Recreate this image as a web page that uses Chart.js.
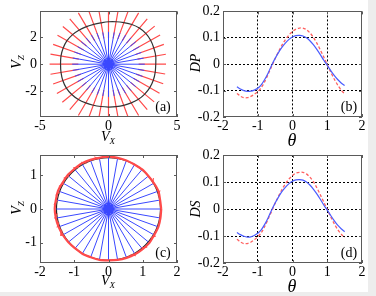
<!DOCTYPE html>
<html>
<head>
<meta charset="utf-8">
<script src="https://cdn.jsdelivr.net/npm/chart.js@4/dist/chart.umd.min.js"></script>
<style>
  html,body{margin:0;padding:0;background:#fff;}
  #wrap{position:relative;width:376px;height:296px;overflow:hidden;background:#fff;}
  canvas{position:absolute;left:0;top:0;}
  .lab{position:absolute;font-family:"Liberation Serif",serif;color:#000;white-space:nowrap;line-height:1;}
  .it{font-style:italic;}
  .sub{font-size:9px;font-style:italic;position:relative;top:3px;}
  .stripR{position:absolute;left:368px;top:0;width:8px;height:296px;background:#ededed;}
  .stripB{position:absolute;left:0;top:292px;width:376px;height:4px;background:#ededed;}
</style>
</head>
<body>
<div id="wrap">
  <canvas id="ca" width="376" height="296"></canvas>
  <canvas id="cb" width="376" height="296"></canvas>
  <canvas id="cc" width="376" height="296"></canvas>
  <canvas id="cd" width="376" height="296"></canvas>

  <div class="lab it" style="left:17px;top:62px;font-size:14px;transform:translate(-50%,-50%) rotate(-90deg);">V<span class="sub">Z</span></div>
  <div class="lab it" style="left:108px;top:130px;font-size:14px;transform:translateX(-50%);">V<span class="sub">X</span></div>
  <div class="lab it" style="left:196px;top:63px;font-size:14px;transform:translate(-50%,-50%) rotate(-90deg);">DP</div>
  <div class="lab it" style="left:292px;top:131px;font-size:18px;transform:translateX(-50%);">θ</div>
  <div class="lab it" style="left:17px;top:208px;font-size:14px;transform:translate(-50%,-50%) rotate(-90deg);">V<span class="sub">Z</span></div>
  <div class="lab it" style="left:108px;top:274px;font-size:14px;transform:translateX(-50%);">V<span class="sub">X</span></div>
  <div class="lab it" style="left:196px;top:209px;font-size:14px;transform:translate(-50%,-50%) rotate(-90deg);">DS</div>
  <div class="lab it" style="left:292px;top:277px;font-size:18px;transform:translateX(-50%);">θ</div>

  <div class="lab" style="left:163px;top:107px;font-size:14px;transform:translate(-50%,-50%);">(a)</div>
  <div class="lab" style="left:349px;top:107px;font-size:14px;transform:translate(-50%,-50%);">(b)</div>
  <div class="lab" style="left:163px;top:253px;font-size:14px;transform:translate(-50%,-50%);">(c)</div>
  <div class="lab" style="left:349px;top:253px;font-size:14px;transform:translate(-50%,-50%);">(d)</div>
  <div class="stripR"></div>
  <div class="stripB"></div>
</div>
<script>
// ---------- data ----------
const spokeAngles = [0,10,20,30,40,50,60,70,80,90,100,110,120,130,140,150,160,170,180,190,200,210,220,230,240,250,260,270,280,290,300,310,320,330,340,350];

// panel (a)
const blueLenA  = [2.65,2.6,2.55,2.6,2.6,2.55,2.5,2.45,2.4,2.4,2.4,2.45,2.5,2.55,2.6,2.6,2.65,2.65,2.65,2.65,2.6,2.6,2.55,2.5,2.45,2.4,2.4,2.4,2.4,2.45,2.5,2.55,2.6,2.6,2.65,2.65];
const redInA    = [2.2,2.15,2.1,2.1,2.1,2.05,2.0,2.0,1.95,1.95,1.95,2.0,2.0,2.05,2.1,2.1,2.15,2.2,2.2,2.2,2.15,2.1,2.1,2.05,2.0,2.0,1.95,1.95,1.95,2.0,2.0,2.05,2.1,2.1,2.15,2.2];
const redOutA   = [4.2,4.25,4.3,4.35,4.4,4.4,4.4,4.4,4.4,4.4,4.4,4.4,4.4,4.4,4.35,4.3,4.3,4.3,4.3,4.3,4.3,4.35,4.4,4.4,4.4,4.4,4.4,4.4,4.4,4.4,4.4,4.4,4.35,4.3,4.25,4.2];
const blackRadA = [3.45,3.5,3.52,3.55,3.55,3.5,3.4,3.28,3.2,3.15,3.12,3.15,3.22,3.32,3.42,3.5,3.52,3.52,3.5,3.52,3.55,3.55,3.5,3.42,3.32,3.24,3.19,3.18,3.2,3.25,3.32,3.4,3.45,3.48,3.48,3.46];
const xTicksA = [-5,0,5];
const yTicksA = [-2,0,2];

// panel (c)
const blueLenC  = [1.52,1.52,1.52,1.52,1.52,1.52,1.52,1.52,1.52,1.52,1.52,1.52,1.52,1.52,1.52,1.52,1.52,1.52,1.52,1.52,1.52,1.52,1.52,1.52,1.52,1.52,1.52,1.52,1.52,1.52,1.52,1.52,1.52,1.52,1.52,1.52];
const blackRadC = [1.52,1.52,1.52,1.52,1.52,1.52,1.52,1.52,1.52,1.52,1.52,1.52,1.52,1.52,1.52,1.52,1.52,1.52,1.52,1.52,1.52,1.52,1.52,1.52,1.52,1.52,1.52,1.52,1.52,1.52,1.52,1.52,1.52,1.52,1.52,1.52];
const redRadC   = [1.54,1.53,1.55,1.53,1.52,1.53,1.52,1.53,1.54,1.55,1.54,1.55,1.56,1.55,1.56,1.55,1.57,1.56,1.57,1.56,1.55,1.54,1.53,1.52,1.53,1.52,1.53,1.52,1.53,1.54,1.55,1.55,1.56,1.54,1.55,1.54];
const hairAnglesC = [15,30,85,100,115,125,140,150,160,170,185,195,205,295,310,325];
const xTicksC = [-2,-1,0,1,2];
const yTicksC = [-1,0,1];

// panels (b) and (d)
const theta = [-1.6,-1.5,-1.4,-1.3,-1.2,-1.1,-1.0,-0.9,-0.8,-0.7,-0.6,-0.5,-0.4,-0.3,-0.2,-0.1,0.0,0.1,0.2,0.3,0.4,0.5,0.6,0.7,0.8,0.9,1.0,1.1,1.2,1.3,1.4,1.5];
const dpBlue = [-0.085,-0.094,-0.100,-0.103,-0.102,-0.098,-0.091,-0.078,-0.058,-0.033,-0.004,0.022,0.045,0.065,0.081,0.094,0.103,0.108,0.109,0.107,0.100,0.089,0.074,0.056,0.036,0.015,-0.004,-0.024,-0.042,-0.058,-0.071,-0.081];
const dpRed  = [-0.111,-0.121,-0.127,-0.127,-0.122,-0.114,-0.104,-0.089,-0.066,-0.038,-0.008,0.021,0.048,0.073,0.094,0.111,0.124,0.133,0.137,0.137,0.131,0.119,0.102,0.080,0.054,0.027,-0.002,-0.030,-0.056,-0.079,-0.098,-0.113];
const dsBlue = [-0.087,-0.095,-0.101,-0.104,-0.103,-0.098,-0.090,-0.077,-0.057,-0.032,-0.004,0.022,0.045,0.065,0.081,0.094,0.103,0.108,0.109,0.107,0.100,0.089,0.074,0.056,0.036,0.015,-0.004,-0.024,-0.043,-0.060,-0.073,-0.084];
const dsRed  = [-0.112,-0.122,-0.128,-0.128,-0.123,-0.114,-0.103,-0.088,-0.065,-0.037,-0.008,0.021,0.048,0.073,0.094,0.111,0.124,0.133,0.136,0.136,0.130,0.118,0.101,0.079,0.053,0.026,-0.002,-0.029,-0.054,-0.076,-0.093,-0.106];
const xTicksTheta = [-2,-1,0,1,2];
const yTicksD = [-0.2,-0.1,0,0.1,0.2];

// ---------- helpers ----------
const rad = d => d * Math.PI / 180;
const P = (r, a) => ({x: r * Math.cos(rad(a)), y: r * Math.sin(rad(a))});
function segments(list) {          // list of [p0,p1] -> data with gaps
  const out = [];
  list.forEach(([p0, p1]) => { out.push(p0, p1, {x: p0.x, y: null}); });
  return out;
}
function closedCurve(radii) {
  const pts = spokeAngles.map((a, i) => P(radii[i], a));
  pts.push(pts[0]);
  return pts;
}

const FRAME = '#5a5a5a';
const framePlugin = {
  id: 'frame',
  afterDraw(chart) {
    const {ctx, chartArea: ca, scales} = chart;
    ctx.save();
    ctx.strokeStyle = FRAME;
    ctx.lineWidth = 1;
    ctx.setLineDash([]);
    ctx.strokeRect(Math.round(ca.left) + 0.5, Math.round(ca.top) + 0.5,
                   Math.round(ca.right - ca.left) - 1, Math.round(ca.bottom - ca.top) - 1);
    const t = 3;
    ctx.beginPath();
    scales.x.ticks.forEach(tk => {
      const px = Math.round(scales.x.getPixelForValue(tk.value)) + 0.5;
      ctx.moveTo(px, ca.bottom); ctx.lineTo(px, ca.bottom - t);
      ctx.moveTo(px, ca.top); ctx.lineTo(px, ca.top + t);
    });
    scales.y.ticks.forEach(tk => {
      const py = Math.round(scales.y.getPixelForValue(tk.value)) + 0.5;
      ctx.moveTo(ca.left, py); ctx.lineTo(ca.left + t, py);
      ctx.moveTo(ca.right, py); ctx.lineTo(ca.right - t, py);
    });
    ctx.stroke();
    ctx.restore();
  }
};

const tickFont = {family: '"Liberation Serif", serif', size: 14};

function makeScales(xr, yr, xt, yt, grid, fmtY) {
  const gridOpt = grid ? {
    display: true, drawTicks: false, lineWidth: 1,
    color: c => (c.tick && (Math.abs(c.tick.value - c.scale.min) < 1e-9 || Math.abs(c.tick.value - c.scale.max) < 1e-9)) ? 'rgba(0,0,0,0)' : '#000'
  } : {display: false, drawTicks: false};
  return {
    x: {
      type: 'linear', min: xr[0], max: xr[1],
      afterBuildTicks: s => { s.ticks = xt.map(v => ({value: v})); },
      afterFit: s => { s.height = 22; },
      ticks: {font: tickFont, color: '#000', padding: 1, maxRotation: 0, minRotation: 0, autoSkip: false,
              callback: v => String(v)},
      grid: gridOpt,
      border: {display: false, dash: [2, 2]}
    },
    y: {
      type: 'linear', min: yr[0], max: yr[1],
      afterBuildTicks: s => { s.ticks = yt.map(v => ({value: v})); },
      afterFit: s => { s.width = 36; },
      ticks: {font: tickFont, color: '#000', padding: 3, autoSkip: false,
              callback: fmtY || (v => String(v))},
      grid: gridOpt,
      border: {display: false, dash: [2, 2]}
    }
  };
}

function baseOptions(pad, scales) {
  return {
    responsive: false, animation: false, devicePixelRatio: 1,
    layout: {padding: pad},
    plugins: {legend: {display: false}, tooltip: {enabled: false}},
    elements: {point: {radius: 0}},
    scales
  };
}

const BLUE = '#3a48ff';
const RED = '#ff4a4a';

// ---------- panel (a) ----------
new Chart(document.getElementById('ca'), {
  type: 'scatter',
  data: {datasets: [
    {data: [{x: 0, y: 0}], pointStyle: 'star', pointRadius: 6, borderWidth: 3, borderColor: BLUE, backgroundColor: BLUE, showLine: false},
    {data: [{x: 0, y: 0}], pointStyle: 'circle', pointRadius: 3.5, borderWidth: 0, backgroundColor: BLUE, showLine: false},
    {data: segments(spokeAngles.map((a, i) => [P(0, a), P(blueLenA[i], a)])), showLine: true, spanGaps: false, borderColor: BLUE, borderWidth: 1, pointRadius: 0},
    {data: closedCurve(blackRadA), showLine: true, borderColor: '#333', borderWidth: 1.2, tension: 0.4, pointRadius: 0},
    {data: segments(spokeAngles.map((a, i) => [P(redInA[i], a), P(redOutA[i], a)])), showLine: true, spanGaps: false, borderColor: RED, borderWidth: 1.2, pointRadius: 0}
  ]},
  options: baseOptions({left: 4, top: 9, right: 199, bottom: 157},
    makeScales([-5, 5], [-3.92, 3.92], xTicksA, yTicksA, false)),
  plugins: [framePlugin]
});

// ---------- panel (c) ----------
new Chart(document.getElementById('cc'), {
  type: 'scatter',
  data: {datasets: [
    {data: [{x: 0, y: 0}], pointStyle: 'star', pointRadius: 6, borderWidth: 3, borderColor: BLUE, backgroundColor: BLUE, showLine: false},
    {data: [{x: 0, y: 0}], pointStyle: 'circle', pointRadius: 3.5, borderWidth: 0, backgroundColor: BLUE, showLine: false},
    {data: closedCurve(redRadC), showLine: true, borderColor: RED, borderWidth: 2.2, tension: 0.3, pointRadius: 0},
    {data: segments(hairAnglesC.map(a => [P(1.5, a), P(1.6, a + 5)])), showLine: true, spanGaps: false, borderColor: RED, borderWidth: 1, pointRadius: 0},
    {data: segments(spokeAngles.map((a, i) => [P(0, a), P(blueLenC[i], a)])), showLine: true, spanGaps: false, borderColor: BLUE, borderWidth: 1, pointRadius: 0},
    {data: closedCurve(blackRadC), showLine: true, borderColor: '#222', borderWidth: 1.2, tension: 0.4, pointRadius: 0}
  ]},
  options: baseOptions({left: 4, top: 155, right: 199, bottom: 11},
    makeScales([-2, 2], [-1.6, 1.6], xTicksC, yTicksC, false)),
  plugins: [framePlugin]
});

// ---------- panels (b) and (d) ----------
const fmtD = v => (v === 0 ? '0' : v.toFixed(1));
function curveChart(id, blue, red, pad) {
  new Chart(document.getElementById(id), {
    type: 'scatter',
    data: {datasets: [
      {data: theta.map((t, i) => ({x: t, y: blue[i]})), showLine: true, borderColor: '#4a5cff', borderWidth: 1.2, tension: 0.3, pointRadius: 0},
      {data: theta.map((t, i) => ({x: t, y: red[i]})), showLine: true, borderColor: '#ff6060', borderWidth: 1.3, borderDash: [3, 2], tension: 0.3, pointRadius: 0}
    ]},
    options: baseOptions(pad, makeScales([-2, 2], [-0.2, 0.2], xTicksTheta, yTicksD, true, fmtD)),
    plugins: [framePlugin]
  });
}
curveChart('cb', dpBlue, dpRed, {left: 187, top: 9, right: 14, bottom: 157});
curveChart('cd', dsBlue, dsRed, {left: 187, top: 155, right: 14, bottom: 11});
</script>
</body>
</html>
